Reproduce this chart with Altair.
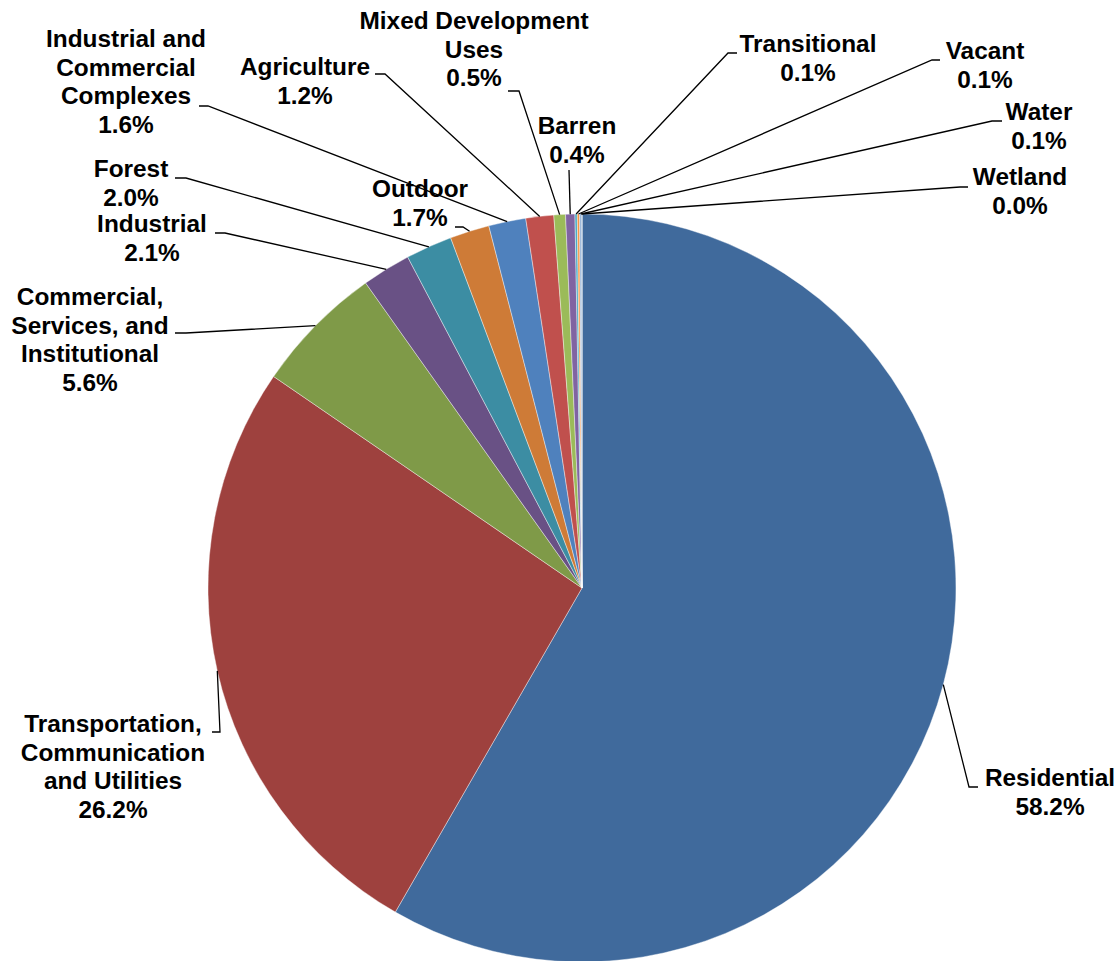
import math
import altair as alt
import pandas as pd

# ---- data ----
categories = ["Residential", "Transportation, Communication and Utilities",
              "Commercial, Services, and Institutional", "Industrial", "Forest",
              "Outdoor", "Industrial and Commercial Complexes", "Agriculture",
              "Mixed Development Uses", "Barren", "Transitional", "Vacant",
              "Water", "Wetland"]
values = [58.2, 26.2, 5.6, 2.1, 2.0, 1.7, 1.6, 1.2, 0.5, 0.4, 0.1, 0.1, 0.1, 0.0]
name_lines = [["Residential"],
              ["Transportation,", "Communication", "and Utilities"],
              ["Commercial,", "Services, and", "Institutional"],
              ["Industrial"], ["Forest"], ["Outdoor"],
              ["Industrial and", "Commercial", "Complexes"],
              ["Agriculture"], ["Mixed Development", "Uses"], ["Barren"],
              ["Transitional"], ["Vacant"], ["Water"], ["Wetland"]]
colors = ["#406A9C", "#9E413E", "#7F9A48", "#695185", "#3C8DA3", "#CE7B37",
          "#4F81BD", "#C0504D", "#9BBB59", "#8064A2", "#4BACC6", "#F79646",
          "#95B3D7", "#D99694"]

# ---- layout (pixels) ----
CX, CY, R = 582, 588, 374
FONT_SIZE = 24.4
LINE_H = 28.5
label_center = [(1050, 779), (113, 725), (90, 298), (152, 225), (131, 170),
                (420, 190), (126, 40), (305, 68), (474, 22), (577, 127),
                (808, 45), (985, 52), (1039, 113), (1020, 178)]
leader_pts = [[(978, 787), (969, 787)],
              [(212, 732), (220, 732)],
              [(175, 333), (186, 333)],
              [(215, 233), (225, 233)],
              [(175, 178), (186, 178)],
              [(455, 227), (463, 227)],
              [(199, 106), (208, 106)],
              [(375, 74), (385, 74)],
              [(508, 91), (519, 91)],
              [(569, 170)],
              [(737, 53), (728, 53)],
              [(940, 60), (932, 60)],
              [(1002, 121), (992, 121)],
              [(968, 187), (960, 187)]]

total = sum(values)
pie_df = pd.DataFrame({"category": categories, "value": values,
                       "idx": list(range(len(values)))})

# leader lines: from label to slice edge at mid-angle
rows = []
cum = 0.0
for i, v in enumerate(values):
    mid = (cum + v / 2) / total * 2 * math.pi
    cum += v
    ex, ey = CX + R * math.sin(mid), CY - R * math.cos(mid)
    pts = leader_pts[i] + [(ex, ey)]
    for k, (px, py) in enumerate(pts):
        rows.append({"id": i, "k": k, "x": px, "y": py})
line_df = pd.DataFrame(rows)

trows = []
for i, v in enumerate(values):
    lines = name_lines[i] + [f"{v:.1f}%"]
    x0, y0 = label_center[i]
    for j, t in enumerate(lines):
        trows.append({"x": x0, "y": y0 + j * LINE_H, "t": t})
text_df = pd.DataFrame(trows)

pie = alt.Chart(pie_df).mark_arc(outerRadius=R, stroke="#ffffff",
                                 strokeWidth=0.4).encode(
    theta=alt.Theta("value:Q", stack=True),
    color=alt.Color("category:N", scale=alt.Scale(domain=categories, range=colors),
                    legend=None),
    order=alt.Order("idx:Q"),
    x=alt.value(CX), y=alt.value(CY),
)

leaders = alt.Chart(line_df).mark_line(color="#000000", strokeWidth=1.3).encode(
    x=alt.X("x:Q", scale=None, axis=None),
    y=alt.Y("y:Q", scale=None, axis=None),
    detail="id:N",
    order="k:Q",
)

labels = alt.Chart(text_df).mark_text(
    font="Liberation Sans", fontWeight="bold", fontSize=FONT_SIZE,
    align="center", baseline="middle", color="#000000").encode(
    x=alt.X("x:Q", scale=None, axis=None),
    y=alt.Y("y:Q", scale=None, axis=None),
    text="t:N",
)

chart = alt.layer(pie, leaders, labels).properties(
    width=1120, height=961, autosize="none", padding=0,
    background="#ffffff",
).configure_view(stroke=None)

chart.save("out.html", embed_options={"renderer": "svg", "actions": False})
